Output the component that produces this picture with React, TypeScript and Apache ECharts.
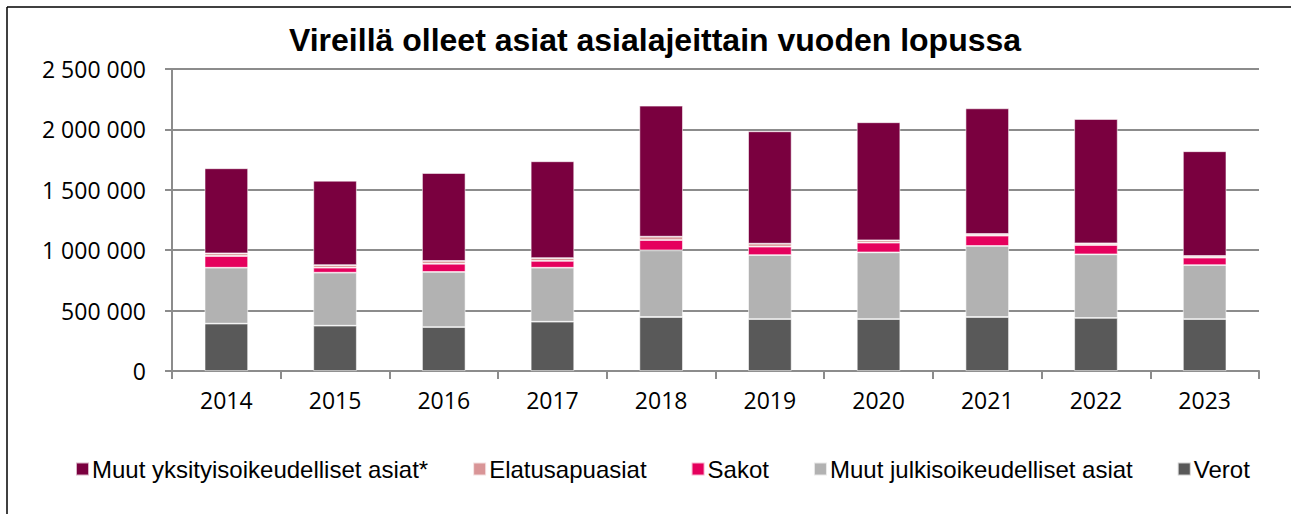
import React, { useEffect, useRef } from "react";
import * as echarts from "echarts";

const years = ["2014", "2015", "2016", "2017", "2018", "2019", "2020", "2021", "2022", "2023"];
const verot = [392000, 375000, 364000, 408000, 447000, 430000, 430000, 447000, 439000, 430000];
const muutJulkisoikeudelliset = [463000, 439000, 456000, 447000, 552000, 530000, 552000, 588000, 527000, 447000];
const sakot = [97000, 41000, 68000, 56000, 85000, 69000, 80000, 85000, 77000, 61000];
const elatusapuasiat = [22000, 22000, 23000, 24000, 28000, 25000, 20000, 14000, 14000, 14000];
const muutYksityisoikeudelliset = [704000, 698000, 728000, 801000, 1084000, 930000, 977000, 1040000, 1029000, 867000];

const titleText = "Vireillä olleet asiat asialajeittain vuoden lopussa";
const names = {
  yks: "Muut yksityisoikeudelliset asiat*",
  elatus: "Elatusapuasiat",
  sakot: "Sakot",
  julk: "Muut julkisoikeudelliset asiat",
  verot: "Verot",
};

const fmt = (v: number) => String(v).replace(/\B(?=(\d{3})+(?!\d))/g, " ");

export default function App() {
  const ref = useRef<HTMLDivElement>(null);
  useEffect(() => {
    if (!ref.current) return;
    const chart = echarts.init(ref.current, null, { renderer: "svg" });
    const gridColor = "#8c8c8c";
    const mk = (name: string, data: number[], color: string) => ({
      name,
      type: "bar",
      stack: "total",
      barWidth: "40%",
      data,
      itemStyle: { color, borderColor: "rgba(255,255,255,0.7)", borderWidth: 0.8 },
    });
    chart.setOption({
      animation: false,
      backgroundColor: "#ffffff",
      graphic: [
        { type: "line", shape: { x1: 7, y1: 7, x2: 1291, y2: 7 }, style: { stroke: "#000", lineWidth: 1.5 } },
        { type: "line", shape: { x1: 7, y1: 7, x2: 7, y2: 514 }, style: { stroke: "#000", lineWidth: 1.5 } },
        {
          type: "text",
          x: 655,
          y: 40,
          style: {
            text: titleText,
            textAlign: "center",
            textVerticalAlign: "middle",
            fontFamily: "Liberation Sans, Arial, sans-serif",
            fontWeight: "bold",
            fontSize: 32,
            fill: "#000",
          },
        },
      ],
      grid: { left: 172, right: 32, top: 69, bottom: 143 },
      legend: {
        data: [names.yks, names.elatus, names.sakot, names.julk, names.verot],
        left: 70,
        top: 452,
        itemWidth: 13,
        itemHeight: 13,
        itemGap: 44,
        icon: "rect",
        textStyle: { fontFamily: "Liberation Sans, Arial, sans-serif", fontSize: 24, color: "#000", padding: [0, 0, 0, -2] },
      },
      xAxis: {
        type: "category",
        data: years,
        axisLine: { lineStyle: { color: gridColor, width: 2 } },
        axisTick: { show: true, length: 8, lineStyle: { color: gridColor, width: 2 } },
        axisLabel: { fontFamily: "Open Sans, sans-serif", fontSize: 23, color: "#000", margin: 17 },
      },
      yAxis: {
        type: "value",
        min: 0,
        max: 2500000,
        interval: 500000,
        axisLine: { show: true, lineStyle: { color: gridColor, width: 2 } },
        axisTick: { show: true, length: 7, lineStyle: { color: gridColor, width: 2 } },
        splitLine: { lineStyle: { color: gridColor, width: 2 } },
        axisLabel: { fontFamily: "Open Sans, sans-serif", fontSize: 23, color: "#000", margin: 26, formatter: fmt },
      },
      series: [
        mk(names.verot, verot, "#595959"),
        mk(names.julk, muutJulkisoikeudelliset, "#b2b2b2"),
        mk(names.sakot, sakot, "#e5005d"),
        mk(names.elatus, elatusapuasiat, "#d99597"),
        mk(names.yks, muutYksityisoikeudelliset, "#7a003f"),
      ],
    });
    return () => chart.dispose();
  }, []);
  return <div ref={ref} style={{ position: "fixed", left: 0, top: 0, width: 1291, height: 514 }} />;
}
